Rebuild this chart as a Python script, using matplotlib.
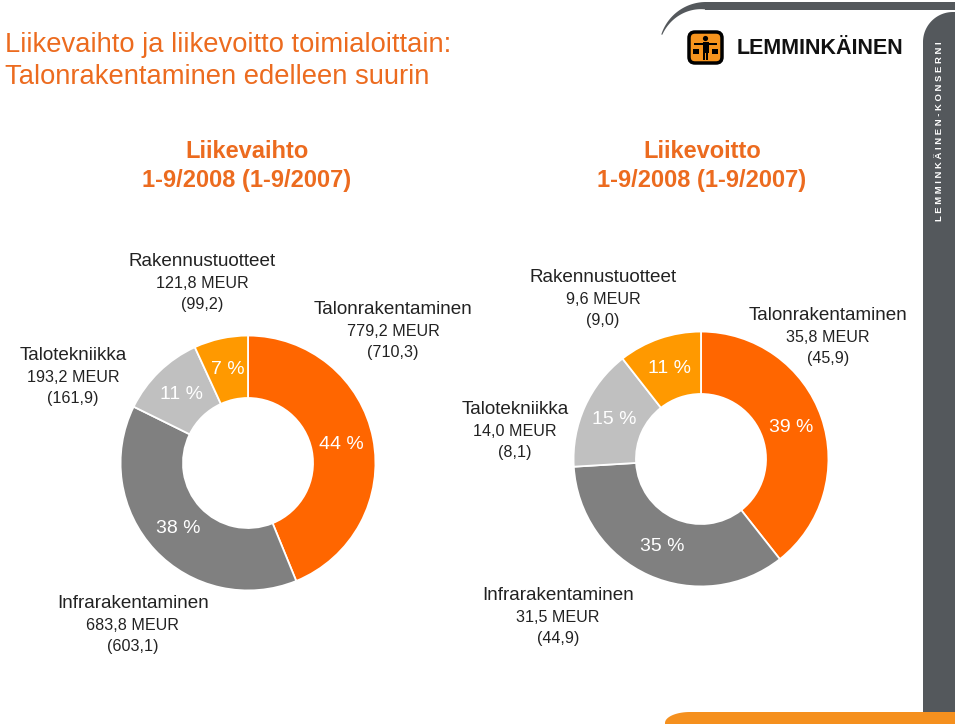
import numpy as np
import matplotlib
matplotlib.use("Agg")
import matplotlib.pyplot as plt
from matplotlib.patches import Polygon, FancyBboxPatch, Circle, Rectangle

plt.rcParams['font.family'] = ['Liberation Sans', 'DejaVu Sans']

# --- data ---
segments = ["Talonrakentaminen", "Infrarakentaminen", "Talotekniikka", "Rakennustuotteet"]
sales_2008 = [779.2, 683.8, 193.2, 121.8]
sales_2007 = [710.3, 603.1, 161.9, 99.2]
profit_2008 = [35.8, 31.5, 14.0, 9.6]
profit_2007 = [45.9, 44.9, 8.1, 9.0]
slice_colors = ["#FF6600", "#808080", "#C0C0C0", "#FF9900"]

ORANGE_TXT = "#EC6B1F"
DARK = "#54585C"
W, H = 960, 724

fig = plt.figure(figsize=(9.6, 7.24), dpi=100, facecolor='white')

# overlay axes in pixel coordinates for texts and decorations
bg = fig.add_axes([0, 0, 1, 1])
bg.set_xlim(0, W)
bg.set_ylim(H, 0)
bg.axis('off')

# title
bg.text(5, 45, "Liikevaihto ja liikevoitto toimialoittain:", fontsize=19.7,
        color=ORANGE_TXT, va='center', ha='left')
bg.text(5, 77, "Talonrakentaminen edelleen suurin", fontsize=19.7,
        color=ORANGE_TXT, va='center', ha='left')

# chart headings
for cx, name in [(247, "Liikevaihto"), (702, "Liikevoitto")]:
    bg.text(cx, 152, name, fontsize=17, fontweight='bold', color=ORANGE_TXT,
            ha='center', va='center')
    bg.text(cx, 180, "1-9/2008 (1-9/2007)", fontsize=17, fontweight='bold',
            color=ORANGE_TXT, ha='center', va='center')

# decorations: top arc band
t = np.radians(np.linspace(198, 270, 40))
cx0, cy0, r0 = 706, 49, 47
wid = np.linspace(1, 7.5, 40)
outer = np.column_stack([cx0 + r0 * np.cos(t), cy0 + r0 * np.sin(t)])
inner = np.column_stack([cx0 + (r0 - wid) * np.cos(t), cy0 + (r0 - wid) * np.sin(t)])
bg.add_patch(Polygon(np.vstack([outer, inner[::-1]]), closed=True, fc=DARK, ec='none'))
bg.add_patch(Rectangle((705, 2), 250, 7.5, fc=DARK, ec='none'))

# right vertical bar with rounded top-left corner
ta = np.radians(np.linspace(180, 270, 30))
arc = np.column_stack([953 + 30 * np.cos(ta), 42 + 30 * np.sin(ta)])
bar = np.vstack([[[923, 712]], arc, [[955, 12], [955, 712]]])
bg.add_patch(Polygon(bar, closed=True, fc=DARK, ec='none'))
bg.text(939, 131, " ".join("LEMMINKÄINEN-KONSERNI"), rotation=90, color='white',
        fontsize=6.8, fontweight='bold', ha='center', va='center')

# bottom orange strip
tb = np.radians(np.linspace(180, 270, 20))
corner = np.column_stack([690 + 25 * np.cos(tb), 723 + 11 * np.sin(tb)])
strip = np.vstack([[[665, 724]], corner, [[955, 712], [955, 724]]])
bg.add_patch(Polygon(strip, closed=True, fc="#F5901E", ec='none'))

# logo
bg.add_patch(FancyBboxPatch((689, 32), 33, 31, boxstyle="round,pad=0,rounding_size=6",
                            fc="#F7941D", ec='black', lw=2.5))
bg.add_patch(Circle((705.5, 38.5), 2.6, fc='black', ec='none'))
bg.add_patch(Rectangle((702.5, 41.5), 6, 11, fc='black', ec='none'))
bg.add_patch(Rectangle((694, 43), 23, 1.6, fc='black', ec='none'))
bg.add_patch(Rectangle((703, 52), 2, 8, fc='black', ec='none'))
bg.add_patch(Rectangle((706, 52), 2, 8, fc='black', ec='none'))
bg.add_patch(Rectangle((693, 49), 6, 5, fc='black', ec='none'))
bg.add_patch(Rectangle((712, 49), 6, 5, fc='black', ec='none'))
bg.text(737, 48, "LEMMINKÄINEN", fontsize=15.5, fontweight='bold', color='#111111',
        ha='left', va='center')


def fmt(v):
    return f"{v:.1f}".replace(".", ",")


def donut(center, values):
    cx, cy = center
    r = 130
    ax = fig.add_axes([(cx - r) / W, (H - cy - r) / H, 2 * r / W, 2 * r / H])
    ax.pie(values, colors=slice_colors, startangle=90, counterclock=False, radius=1,
           wedgeprops=dict(width=0.49, edgecolor='white', linewidth=1.3),
           autopct=lambda p: f"{p:.0f} %", pctdistance=0.75,
           textprops=dict(color='white', fontsize=14))
    ax.set_xlim(-1.02, 1.02)
    ax.set_ylim(-1.02, 1.02)
    ax.set_aspect('equal')
    ax.axis('off')
    return ax


donut((248, 463), sales_2008)
donut((701, 459), profit_2008)

label_left = {"Talonrakentaminen": (393, 310), "Infrarakentaminen": (133, 603),
              "Talotekniikka": (73, 355), "Rakennustuotteet": (202, 262)}
label_right = {"Talonrakentaminen": (828, 315), "Infrarakentaminen": (558, 595),
               "Talotekniikka": (515, 410), "Rakennustuotteet": (603, 278)}

for pos, cur, prev in [(label_left, sales_2008, sales_2007),
                       (label_right, profit_2008, profit_2007)]:
    for name, v, p in zip(segments, cur, prev):
        x, y = pos[name]
        bg.text(x, y, name, fontsize=13.6, color='#222222', ha='center', va='center')
        bg.text(x, y + 22, f"{fmt(v)} MEUR", fontsize=11.6, color='#222222',
                ha='center', va='center')
        bg.text(x, y + 43, f"({fmt(p)})", fontsize=11.6, color='#222222',
                ha='center', va='center')

fig.savefig("out.png", dpi=100, facecolor='white')
